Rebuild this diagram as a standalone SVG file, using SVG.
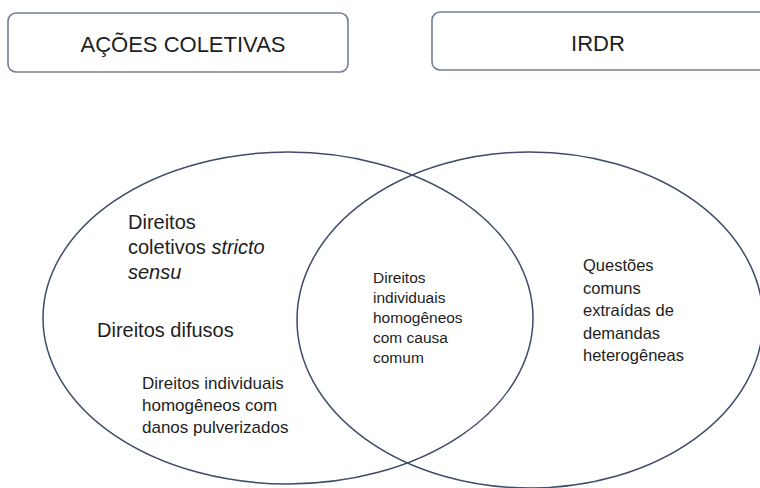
<svg xmlns="http://www.w3.org/2000/svg" width="760" height="488" viewBox="0 0 760 488">
  <style>
    .box { fill: #ffffff; stroke: #737d98; stroke-width: 1.6; }
    .set { fill: none; stroke: #3f4b6c; stroke-width: 1.5; }
    text { font-family: "Liberation Sans", Arial, sans-serif; fill: #1e1e1e; }
    .hdr { font-size: 22px; text-anchor: middle; }
    .big { font-size: 20px; }
    .mid { font-size: 17px; }
    .ctr { font-size: 15.5px; }
    .rgt { font-size: 16.5px; }
  </style>
  <rect width="760" height="488" fill="#ffffff"/>

  <g id="acoes-coletivas">
    <rect class="box" x="8" y="13" width="340" height="59" rx="8"/>
    <text class="hdr" x="183" y="52">AÇÕES COLETIVAS</text>
  </g>

  <g id="irdr">
    <rect class="box" x="432" y="12" width="340" height="58" rx="8"/>
    <text class="hdr" x="598" y="51">IRDR</text>
  </g>

  <g id="conjunto-acoes">
    <ellipse class="set" cx="288" cy="318" rx="245" ry="166"/>
  </g>

  <g id="conjunto-irdr">
    <ellipse class="set" cx="530" cy="320" rx="233" ry="168"/>
  </g>

  <g id="coletivos">
    <text class="big" x="128" y="229">Direitos</text>
    <text class="big" x="128" y="254">coletivos <tspan font-style="italic">stricto</tspan></text>
    <text class="big" x="128" y="279" font-style="italic">sensu</text>
  </g>

  <g id="difusos">
    <text class="big" x="97" y="337">Direitos difusos</text>
  </g>

  <g id="individuais-pulverizados">
    <text class="mid" x="142" y="389">Direitos individuais</text>
    <text class="mid" x="142" y="411">homogêneos com</text>
    <text class="mid" x="142" y="433">danos pulverizados</text>
  </g>

  <g id="individuais-causa-comum">
    <text class="ctr" x="373" y="283">Direitos</text>
    <text class="ctr" x="373" y="303">individuais</text>
    <text class="ctr" x="373" y="323">homogêneos</text>
    <text class="ctr" x="373" y="343">com causa</text>
    <text class="ctr" x="373" y="363">comum</text>
  </g>

  <g id="questoes-comuns">
    <text class="rgt" x="583" y="271">Questões</text>
    <text class="rgt" x="583" y="293.5">comuns</text>
    <text class="rgt" x="583" y="316">extraídas de</text>
    <text class="rgt" x="583" y="338.5">demandas</text>
    <text class="rgt" x="583" y="361">heterogêneas</text>
  </g>

  <g id="connectors"></g>
</svg>
